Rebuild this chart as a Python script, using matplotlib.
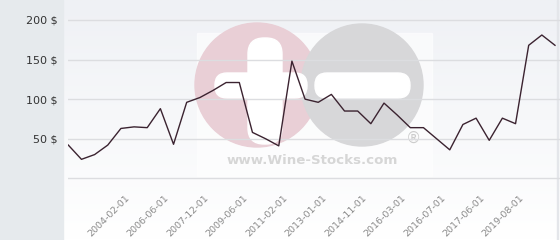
import numpy as np
import matplotlib
matplotlib.use("Agg")
import matplotlib.pyplot as plt
import matplotlib.transforms as mtrans
from matplotlib.patches import Circle, Rectangle, FancyBboxPatch

# prix (en $)
prices = [42, 24, 30, 42, 63, 65, 64, 88, 43, 96, 102, 111, 121, 121, 58, 50,
          41, 148, 100, 96, 106, 85, 85, 69, 95, 80, 64, 64, 50, 36, 68, 76,
          48, 76, 69, 168, 181, 168]
tick_labels = ["2004-02-01", "2006-06-01", "2007-12-01", "2009-06-01",
               "2011-02-01", "2013-01-01", "2014-11-01", "2016-03-01",
               "2016-07-01", "2017-06-01", "2019-08-01"]
tick_index = list(range(5, 5 + 3 * len(tick_labels), 3))
y_ticks = [50, 100, 150, 200]

W, H = 560, 240
fig = plt.figure(figsize=(W / 100, H / 100), dpi=100)

# fond : panneau gris a gauche, degrade, filigrane
bg = fig.add_axes([0, 0, 1, 1])
bg.set_xlim(0, W)
bg.set_ylim(H, 0)
bg.axis("off")
grad = np.linspace(0, 1, 100).reshape(-1, 1)
bg.imshow(grad, extent=(63, W, H, 0), cmap=matplotlib.colors.LinearSegmentedColormap.from_list(
    "g", ["#eff1f5", "#ffffff"]), aspect="auto", zorder=0)
bg.add_patch(Rectangle((0, 0), 63, H, color="#e6eaed", zorder=1))
bg.add_patch(Rectangle((557, 0), 1, H, color="#e4e6ea", zorder=1))
bg.add_patch(Rectangle((197, 33), 235, 143, color="#ffffff", alpha=0.6, zorder=1))
bg.add_patch(Circle((257, 85), 62, color="#e9cfd6", zorder=2))
bg.add_patch(Circle((362, 85), 61, color="#d7d7d9", zorder=2))
bg.add_patch(FancyBboxPatch((248, 38), 34, 106, boxstyle="round,pad=0,rounding_size=16",
                            color="#ffffff", zorder=3))
bg.add_patch(FancyBboxPatch((215, 73), 92, 25, boxstyle="round,pad=0,rounding_size=12",
                            color="#ffffff", zorder=3))
bg.add_patch(FancyBboxPatch((315, 73), 95, 25, boxstyle="round,pad=0,rounding_size=12",
                            color="#ffffff", zorder=3))
bg.text(312, 161, "www.Wine-Stocks.com", ha="center", va="center", fontsize=9.6,
        fontweight="bold", color="#d6d6d6", zorder=3)
bg.text(414, 138, "®", ha="center", va="center", fontsize=11, color="#cdcdcd", zorder=3)

# courbe
ax = fig.add_axes([68.3 / W, (H - 182.3) / H, 1 - 68.3 / W, 182.3 / H])
ax.patch.set_alpha(0)
x = np.arange(len(prices))
ax.plot(x, prices, color="#3b2330", lw=1.0, zorder=5)
ax.set_xlim(0, len(prices) - 1 + 5 / 13.15)
ax.set_ylim(-5, 225.2)
for v in [0] + y_ticks:
    ax.axhline(v, color="#dcdde0", lw=1.0, zorder=1)
ax.set_yticks(y_ticks)
ax.set_yticklabels([f"{v} $" for v in y_ticks], fontsize=8, color="#333333")
ax.set_xticks(tick_index)
ax.set_xticklabels(tick_labels, rotation=45, ha="right", va="center",
                   rotation_mode="anchor", fontsize=6.8, color="#8a8a8a")
ax.tick_params(axis="both", length=0)
ax.tick_params(axis="y", pad=8)
ax.tick_params(axis="x", pad=10)
shift = mtrans.ScaledTranslation(-6 / 100, 0, fig.dpi_scale_trans)
for lbl in ax.get_xticklabels():
    lbl.set_transform(lbl.get_transform() + shift)
for s in ax.spines.values():
    s.set_visible(False)

fig.savefig("out.png", dpi=100)
